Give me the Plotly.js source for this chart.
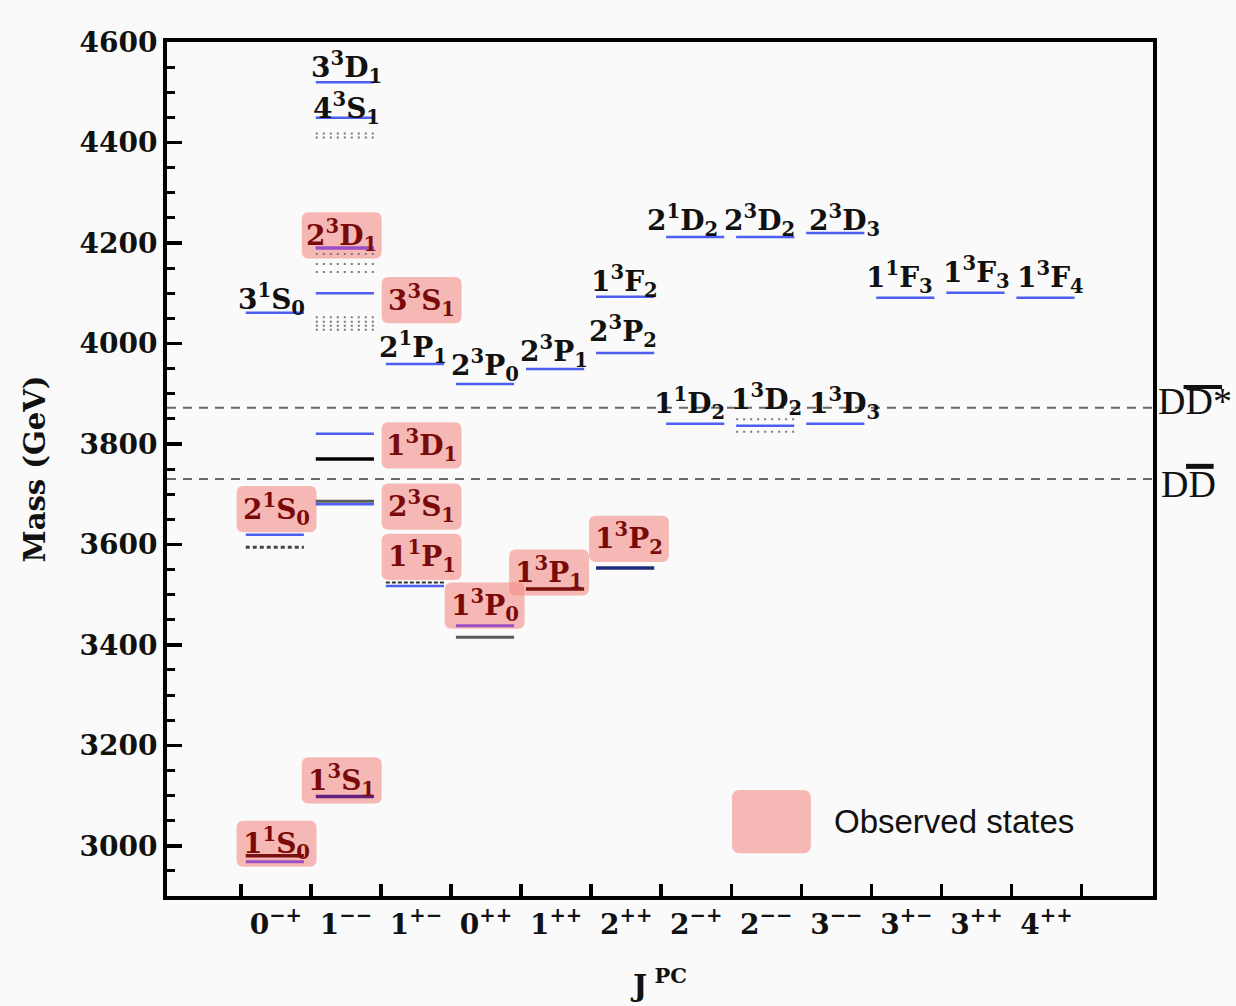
<!DOCTYPE html>
<html>
<head>
<meta charset="utf-8">
<script src="https://cdn.plot.ly/plotly-3.0.1.min.js"></script>
<style>
  html, body { margin: 0; padding: 0; background: #f9faf9; }
  #chart { width: 1236px; height: 1006px; }
</style>
</head>
<body>
<div id="chart"></div>
<script>
// J^PC columns, left to right
const jpcLabels = [
  '0<sup>−+</sup>', '1<sup>−−</sup>', '1<sup>+−</sup>', '0<sup>++</sup>',
  '1<sup>++</sup>', '2<sup>++</sup>', '2<sup>−+</sup>', '2<sup>−−</sup>',
  '3<sup>−−</sup>', '3<sup>+−</sup>', '3<sup>++</sup>', '4<sup>++</sup>'
];

// Energy levels: column index, mass (MeV) and kind of level
const levelCol = [
  0, 0, 1, 1, 1, 1, 1, 2, 2, 3, 4, 5, 5, 6, 6, 7, 7, 8, 8, 9, 10, 11,
  0, 1, 1, 3,
  0, 4,
  1,
  5,
  1, 3,
  1,
  2,
  0,
  1, 1, 1, 1, 1, 1, 1, 1, 1, 7, 7
];
const levelMass = [
  3619, 4061, 3680, 3820, 4100, 4449, 4520, 3517, 3959, 3919, 3949, 3981, 4093, 3840, 4212, 3836, 4212, 3840, 4220, 4091, 4101, 4091,
  2968, 4190, 4190, 3438,
  2980, 3511,
  3098,
  3553,
  3686, 3415,
  3770,
  3524,
  3594,
  4418, 4410, 4178, 4158, 4142, 4052, 4043, 4035, 4027, 3849, 3824
];
const levelKind = [
  'pred', 'pred', 'pred', 'pred', 'pred', 'pred', 'pred', 'pred', 'pred', 'pred', 'pred', 'pred', 'pred', 'pred', 'pred', 'pred', 'pred', 'pred', 'pred', 'pred', 'pred', 'pred',
  'mix', 'mix', 'mix', 'mix',
  'meas', 'meas',
  'mixDark',
  'navy',
  'gray', 'gray',
  'black',
  'dashed',
  'hatch',
  'dotted', 'dotted', 'dotted', 'dotted', 'dotted', 'dotted', 'dotted', 'dotted', 'dotted', 'dotted', 'dotted'
];

// State labels: text, column of the level, mass of the level, observed or not
const stateName = [
  '3<sup>3</sup>D<sub>1</sub>', '4<sup>3</sup>S<sub>1</sub>', '2<sup>3</sup>D<sub>1</sub>', '3<sup>1</sup>S<sub>0</sub>',
  '3<sup>3</sup>S<sub>1</sub>', '2<sup>1</sup>P<sub>1</sub>', '2<sup>3</sup>P<sub>0</sub>', '2<sup>3</sup>P<sub>1</sub>',
  '2<sup>3</sup>P<sub>2</sub>', '1<sup>3</sup>F<sub>2</sub>', '2<sup>1</sup>D<sub>2</sub>', '2<sup>3</sup>D<sub>2</sub>',
  '2<sup>3</sup>D<sub>3</sub>', '1<sup>1</sup>D<sub>2</sub>', '1<sup>3</sup>D<sub>2</sub>', '1<sup>3</sup>D<sub>3</sub>',
  '1<sup>1</sup>F<sub>3</sub>', '1<sup>3</sup>F<sub>3</sub>', '1<sup>3</sup>F<sub>4</sub>', '1<sup>3</sup>D<sub>1</sub>',
  '2<sup>3</sup>S<sub>1</sub>', '2<sup>1</sup>S<sub>0</sub>', '1<sup>1</sup>P<sub>1</sub>', '1<sup>3</sup>P<sub>0</sub>',
  '1<sup>3</sup>P<sub>1</sub>', '1<sup>3</sup>P<sub>2</sub>', '1<sup>3</sup>S<sub>1</sub>', '1<sup>1</sup>S<sub>0</sub>'
];
const stateCol  = [1, 1, 1, 0, 1, 2, 3, 4, 5, 5, 6, 7, 8, 6, 7, 8, 9, 10, 11, 1, 1, 0, 2, 3, 4, 5, 1, 0];
const stateMass = [4520, 4449, 4190, 4061, 4100, 3959, 3919, 3949, 3981, 4093, 4212, 4212, 4220, 3840, 3836, 3840, 4091, 4101, 4091, 3770, 3686, 3619, 3524, 3438, 3511, 3553, 3098, 2980];
const stateObserved = [0, 0, 1, 0, 1, 0, 0, 0, 0, 0, 0, 0, 0, 0, 0, 0, 0, 0, 0, 1, 1, 1, 1, 1, 1, 1, 1, 1];

// Open-charm thresholds
const thresholdMass = [3872, 3730];

// ---- styling ----
const levelStyle = {
  pred:    { color: '#4d5ef2', width: 2.5 },
  mix:     { color: '#9a4fc4', width: 3 },
  mixDark: { color: '#62207a', width: 3.5 },
  meas:    { color: '#7a1111', width: 3.5 },
  navy:    { color: '#1c2a78', width: 3.5 },
  gray:    { color: '#5a5a5a', width: 3 },
  black:   { color: '#000000', width: 3.5 },
  dashed:  { color: '#333333', width: 2, dash: '4px,2px' },
  hatch:   { color: '#444444', width: 3, dash: '4px,3px' },
  dotted:  { color: '#7a7a7a', width: 2, dash: '2px,5px' }
};
const levelFrom = 0.07, levelTo = 0.90;

// label placement: shift in columns and in MeV relative to the level
const labelDx = [0.01, 0.01, -0.06, -0.06, 1.08, -0.04, -0.02, -0.03, -0.04, -0.02, -0.2, -0.09, 0.12, -0.1, 0, 0.12, -0.1, 0, 0.05, 1.08, 1.08, 0.01, 0.08, -0.02, -0.1, 0.04, -0.06, 0.01];
const labelDy = [30, 18, 25, 26, -14, 32, 38, 34, 42, 30, 32, 32, 24, 40, 52, 40, 40, 40, 40, 27, -11, 51, 51, 40, 33, 58, 32, 24];
const boxHalfW = 0.57, boxHalfH = 46, boxRx = 0.1, boxRy = 14;
const boxFill = 'rgba(244,140,135,0.6)';

const serifBold = { family: 'DejaVu Serif', size: 28, color: '#111', weight: 'bold' };

// level traces grouped by kind
const traces = [];
Object.keys(levelStyle).forEach(kind => {
  const xs = [], ys = [];
  levelKind.forEach((k, i) => {
    if (k !== kind) return;
    xs.push(levelCol[i] + levelFrom, levelCol[i] + levelTo, null);
    ys.push(levelMass[i], levelMass[i], null);
  });
  const st = levelStyle[kind];
  traces.push({
    type: 'scatter', mode: 'lines', x: xs, y: ys, hoverinfo: 'skip',
    line: { color: st.color, width: st.width, dash: st.dash || 'solid' },
    showlegend: false
  });
});

function roundedBox(cx, cy, hw, hh, rx, ry) {
  const x0 = cx - hw, x1 = cx + hw, y0 = cy - hh, y1 = cy + hh;
  return `M${x0 + rx},${y0} L${x1 - rx},${y0} Q${x1},${y0} ${x1},${y0 + ry} ` +
         `L${x1},${y1 - ry} Q${x1},${y1} ${x1 - rx},${y1} L${x0 + rx},${y1} ` +
         `Q${x0},${y1} ${x0},${y1 - ry} L${x0},${y0 + ry} Q${x0},${y0} ${x0 + rx},${y0} Z`;
}

const shapes = [];
const annotations = [];

stateName.forEach((name, i) => {
  const cx = stateCol[i] + 0.5 + labelDx[i];
  const cy = stateMass[i] + labelDy[i];
  if (stateObserved[i]) {
    shapes.push({
      type: 'path', xref: 'x', yref: 'y', layer: 'below',
      path: roundedBox(cx, cy, boxHalfW, boxHalfH, boxRx, boxRy),
      fillcolor: boxFill, line: { width: 0 }
    });
  }
  annotations.push({
    x: cx, y: cy, xref: 'x', yref: 'y', xanchor: 'center', yanchor: 'middle',
    text: name, showarrow: false,
    font: { family: 'DejaVu Serif', size: 28, weight: 'bold', color: stateObserved[i] ? '#7a0a0a' : '#111' }
  });
});

// thresholds
thresholdMass.forEach(m => {
  shapes.push({
    type: 'line', xref: 'paper', yref: 'y', x0: 0, x1: 1, y0: m, y1: m,
    layer: 'below', line: { color: '#6a6a6a', width: 2, dash: '9px,7px' }
  });
});
annotations.push({
  xref: 'paper', yref: 'paper', x: 1.003, y: 0.5796, xanchor: 'left', yanchor: 'middle',
  text: 'DD*', showarrow: false,
  font: { family: 'Liberation Serif', size: 38, color: '#111' }
});
annotations.push({
  xref: 'paper', yref: 'paper', x: 1.006, y: 0.4830, xanchor: 'left', yanchor: 'middle',
  text: 'DD', showarrow: false,
  font: { family: 'Liberation Serif', size: 38, color: '#111' }
});
// bars over the anti-D
shapes.push({ type: 'line', xref: 'paper', yref: 'paper', x0: 1.0310, x1: 1.0700, y0: 0.5960, y1: 0.5960, line: { color: '#111', width: 4 } });
shapes.push({ type: 'line', xref: 'paper', yref: 'paper', x0: 1.0335, x1: 1.0615, y0: 0.5031, y1: 0.5031, line: { color: '#111', width: 5 } });

// key for the shaded boxes
shapes.push({
  type: 'path', xref: 'paper', yref: 'paper', layer: 'below',
  path: roundedBox(0.613, 0.087, 0.040, 0.037, 0.0081, 0.0094),
  fillcolor: boxFill, line: { width: 0 }
});
annotations.push({
  xref: 'paper', yref: 'paper', x: 0.674, y: 0.0867, xanchor: 'left', yanchor: 'middle',
  text: 'Observed states', showarrow: false,
  font: { family: 'Liberation Sans', size: 33, color: '#111' }
});

const tickVals = jpcLabels.map((_, i) => i).concat([jpcLabels.length]);
const tickText = jpcLabels.concat(['']);

const layout = {
  width: 1236, height: 1006,
  margin: { l: 167, r: 83, t: 42, b: 110 },
  paper_bgcolor: '#f9faf9', plot_bgcolor: '#f9faf9',
  showlegend: false,
  xaxis: {
    range: [-1.054, 13.02], tickvals: tickVals, ticktext: tickText,
    ticks: 'inside', ticklen: 12, tickwidth: 3.5, tickcolor: '#000',
    ticklabelshift: 35,
    showline: true, linewidth: 4, linecolor: '#000', mirror: true,
    showgrid: false, zeroline: false,
    tickfont: serifBold,
    title: { text: 'J<sup> PC</sup>', font: { family: 'DejaVu Serif', size: 30, weight: 'bold', color: '#111' }, standoff: 36 }
  },
  yaxis: {
    range: [2900, 4600], tick0: 0, dtick: 200,
    ticks: 'inside', ticklen: 15, tickwidth: 3.5, tickcolor: '#000',
    minor: { dtick: 50, ticks: 'inside', ticklen: 8, tickwidth: 3, tickcolor: '#000' },
    showline: true, linewidth: 4, linecolor: '#000', mirror: true,
    showgrid: false, zeroline: false,
    tickfont: serifBold,
    title: { text: 'Mass (GeV)', font: { family: 'DejaVu Serif', size: 29, weight: 'bold', color: '#111' }, standoff: 26 }
  },
  shapes: shapes,
  annotations: annotations
};

Plotly.newPlot('chart', traces, layout, { displayModeBar: false, staticPlot: true });
</script>
</body>
</html>
